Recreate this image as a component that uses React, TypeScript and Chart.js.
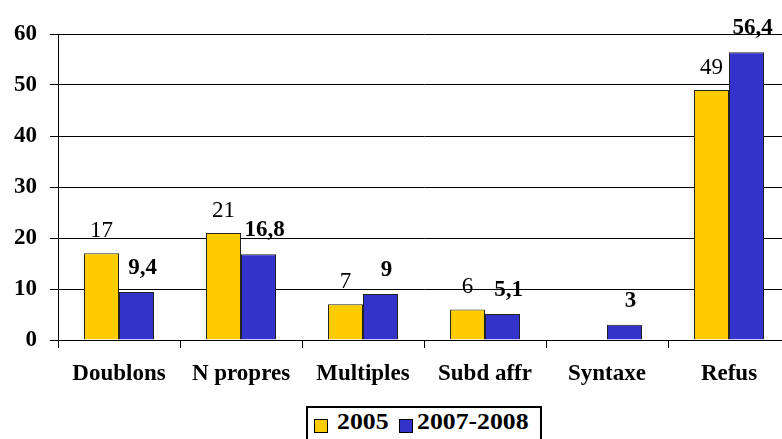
import React, { useEffect, useRef } from "react";
import { Chart, registerables } from "chart.js";

Chart.register(...registerables);

const categories = ["Doublons", "N propres", "Multiples", "Subd affr", "Syntaxe", "Refus"];
const series2005 = [17, 21, 7, 6, null, 49];
const series2007 = [9.4, 16.8, 9, 5.1, 3, 56.4];
const seriesNames = ["2005", "2007-2008"];
const yTicks = [0, 10, 20, 30, 40, 50, 60];

const YELLOW = "#FFCC00";
const BLUE = "#3333CC";
const FONT = "'Liberation Serif', 'Times New Roman', serif";

const labelPlugin = {
  id: "valueLabels",
  afterDatasetsDraw(chart: any) {
    const ctx = chart.ctx;
    ctx.save();
    ctx.fillStyle = "#000";
    ctx.textAlign = "center";
    ctx.textBaseline = "alphabetic";
    chart.data.datasets.forEach((ds: any, di: number) => {
      const meta = chart.getDatasetMeta(di);
      ctx.font = (di === 1 ? "bold " : "") + "23px " + FONT;
      meta.data.forEach((bar: any, i: number) => {
        const v = ds.data[i];
        if (v === null || v === undefined) return;
        const txt = String(v).replace(".", ",");
        const dx = di === 1 ? 6 : 0;
        const gap = di === 1 ? 18 : 16;
        ctx.fillText(txt, bar.x + dx, bar.y - gap);
      });
    });
    ctx.restore();
  },
};

export default function App() {
  const ref = useRef<HTMLCanvasElement | null>(null);

  useEffect(() => {
    document.body.style.margin = "0";
    const canvas = ref.current!;
    const chart = new Chart(canvas, {
      type: "bar",
      data: {
        labels: categories,
        datasets: [
          {
            label: seriesNames[0],
            data: series2005,
            backgroundColor: YELLOW,
            borderColor: "#222",
            borderWidth: 1,
            categoryPercentage: 0.574,
            barPercentage: 1,
          },
          {
            label: seriesNames[1],
            data: series2007,
            backgroundColor: BLUE,
            borderColor: "#222",
            borderWidth: 1,
            categoryPercentage: 0.574,
            barPercentage: 1,
          },
        ],
      },
      options: {
        responsive: false,
        animation: false,
        devicePixelRatio: 1,
        layout: { padding: { top: 34, right: 2, left: 0, bottom: 0 } },
        plugins: {
          legend: { display: false },
          tooltip: { enabled: false },
        },
        scales: {
          y: {
            min: 0,
            max: 60,
            afterBuildTicks: (scale: any) => {
              scale.ticks = yTicks.map((v) => ({ value: v }));
            },
            afterFit: (scale: any) => {
              scale.width = 58;
            },
            ticks: {
              color: "#000",
              font: { family: FONT, size: 23, weight: "bold" },
              padding: 13,
            },
            grid: { color: "#000", lineWidth: 1, tickLength: 8, drawTicks: true },
            border: { display: true, color: "#000", width: 1 },
          },
          x: {
            afterFit: (scale: any) => {
              scale.height = 99;
            },
            ticks: {
              color: "#000",
              font: { family: FONT, size: 23, weight: "bold" },
              padding: 12,
              maxRotation: 0,
              autoSkip: false,
            },
            grid: {
              color: "#000",
              lineWidth: 1,
              tickLength: 8,
              drawOnChartArea: false,
              drawTicks: true,
              offset: true,
            },
            border: { display: true, color: "#000", width: 1 },
          },
        },
      },
      plugins: [labelPlugin],
    } as any);
    return () => chart.destroy();
  }, []);

  const textStyle: React.CSSProperties = {
    position: "absolute",
    fontFamily: FONT,
    fontWeight: "bold",
    fontSize: 23,
    lineHeight: "23px",
    color: "#000",
    whiteSpace: "nowrap",
    transform: "scaleX(1.12)",
    transformOrigin: "left center",
  };

  return (
    <div style={{ position: "relative", width: 782, height: 439, overflow: "hidden", background: "#fff" }}>
      <canvas ref={ref} width={792} height={439} style={{ position: "absolute", left: 0, top: 0 }} />
      <div
        style={{
          position: "absolute",
          left: 306,
          top: 406,
          width: 236,
          height: 50,
          border: "2px solid #000",
          boxSizing: "border-box",
          background: "#fff",
        }}
      >
        <div style={{ position: "absolute", left: 6, top: 11, width: 14, height: 14, background: YELLOW, border: "1px solid #000", boxSizing: "border-box" }} />
        <div style={{ ...textStyle, left: 29, top: 2 }}>{seriesNames[0]}</div>
        <div style={{ position: "absolute", left: 91, top: 11, width: 14, height: 14, background: BLUE, border: "1px solid #000", boxSizing: "border-box" }} />
        <div style={{ ...textStyle, left: 109, top: 2 }}>{seriesNames[1]}</div>
      </div>
    </div>
  );
}
